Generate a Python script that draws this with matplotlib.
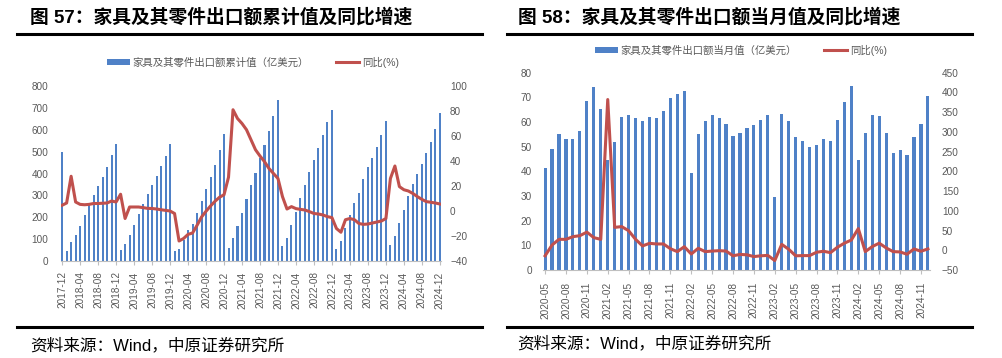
import matplotlib
matplotlib.use("Agg")
import matplotlib.pyplot as plt
from matplotlib.lines import Line2D
from matplotlib.patches import Patch
import numpy as np

plt.rcParams['font.family'] = ['Liberation Sans', 'Noto Sans CJK SC', 'DejaVu Sans']

# ---------------- data: left chart (cumulative) ----------------
months_left = [f"{y}-{m:02d}" for y in range(2017, 2025) for m in range(1, 13)]
months_left = months_left[months_left.index("2017-12"):months_left.index("2024-12") + 1]

cum_value = [497,
             48, 85, 117, 160, 210, 258, 300, 343, 385, 432, 483, 535,
             52, 76, 120, 165, 213, 262, 305, 349, 389, 433, 480, 537,
             44, 53, 98, 140, 171, 221, 276, 331, 383, 439, 509, 582,
             61, 105, 160, 221, 282, 346, 404, 471, 530, 596, 664, 738,
             67, 107, 165, 224, 287, 349, 405, 462, 518, 575, 634, 692,
             56, 90, 151, 212, 267, 311, 375, 430, 470, 520, 575, 640,
             72, 114, 172, 233, 297, 350, 399, 445, 494, 544, 605, 678]

cum_yoy = [4.6,
           6.4, 27.8, 7.2, 5.3, 5.0, 5.3, 6.0, 6.0, 6.2, 6.4, 8.0, 7.2,
           13.4, -6.0, 3.2, 3.2, 3.2, 2.7, 2.1, 2.0, 1.6, 1.0, 0.5, 0.0,
           -2.0, -24.0, -22.0, -18.7, -17.6, -11.5, -4.8, -0.2, 4.0, 7.8, 11.0, 13.0,
           27.0, 81.0, 74.0, 70.0, 65.0, 57.0, 49.0, 44.0, 39.5, 34.0, 30.0, 26.0,
           11.5, 1.6, 3.5, 1.9, 1.3, 0.8, -0.5, -2.0, -2.4, -3.2, -4.5, -5.3,
           -14.0, -17.0, -7.0, -6.0, -7.0, -10.0, -10.7, -10.4, -9.6, -8.8, -8.0, -6.0,
           26.0, 36.0, 19.5, 17.0, 16.0, 14.0, 11.5, 9.3, 7.5, 7.0, 6.4, 5.6]

# ---------------- data: right chart (monthly) ----------------
months_right = [f"{y}-{m:02d}" for y in range(2020, 2025) for m in range(1, 13)]
months_right = months_right[months_right.index("2020-05"):months_right.index("2024-12") + 1]

month_value = [41.5, 49, 55, 53.3, 53, 56.5, 68.5, 74.2,
               65.3, 44.5, 51.8, 62.2, 62.7, 61.7, 60.3, 62.2, 61.5, 64.5, 69.8, 71.4,
               72.4, 39.5, 55.3, 60.4, 63, 61.5, 59, 54.3, 55.6, 57.6, 58.7, 60.8,
               62.7, 29.6, 63.4, 60.5, 53.8, 52.3, 50, 50.6, 53.1, 52.3, 61, 68.3,
               74.6, 44.6, 55.7, 62.7, 62.4, 55.4, 47.5, 48.5, 46.6, 53.8, 59.2, 70.6]

month_yoy = [-14, 13.3, 27.7, 27.7, 34.5, 37, 46, 32,
             27.7, 382, 58, 60, 49.6, 27.7, 11, 17.6, 16, 16, 4, -3.5,
             9, -9.5, 5, -3.5, -2, -1, -2, -14, -10.5, -11.5, -16, -14,
             -13, -26, 15, 2.5, -14, -13.5, -13.5, -5, -2.5, -6, 7.6, 18,
             26, 55, -3.4, 9.3, 18, 6, -3.4, -4.2, -10, 3.4, -2.5, 3.4]

title_left = "图 57：家具及其零件出口额累计值及同比增速"
title_right = "图 58：家具及其零件出口额当月值及同比增速"
legend_bar_left = "家具及其零件出口额累计值（亿美元）"
legend_bar_right = "家具及其零件出口额当月值（亿美元）"
legend_line = "同比(%)"
source = "资料来源：Wind，中原证券研究所"

BLUE = "#4F81C7"
RED = "#C0504D"
GRAY = "#595959"
AXGRAY = "#BFBFBF"

W, H = 1002, 358
fig = plt.figure(figsize=(W / 100, H / 100), dpi=100)


def fx(px):
    return px / W


def fy(py):
    return 1 - py / H


def style(ax, axr, ylpad, yrpad, xpad, fs):
    for a in (ax, axr):
        for s in ('top', 'left', 'right', 'bottom'):
            a.spines[s].set_visible(False)
    ax.spines['bottom'].set_visible(True)
    ax.spines['bottom'].set_color(AXGRAY)
    ax.spines['bottom'].set_linewidth(0.8)
    ax.tick_params(axis='y', length=0, pad=ylpad, labelsize=fs, labelcolor=GRAY)
    axr.tick_params(axis='y', length=0, pad=yrpad, labelsize=fs, labelcolor=GRAY)
    ax.tick_params(axis='x', length=3, color=AXGRAY, pad=xpad, labelsize=fs,
                   labelcolor=GRAY, labelrotation=90)


# ---------------- left chart ----------------
ax1 = fig.add_axes([fx(61), fy(261), fx(441) - fx(61), fy(86) - fy(261)])
xl = np.arange(len(months_left))
ax1.bar(xl, cum_value, width=0.45, color=BLUE, zorder=2)
ax1.set_ylim(0, 800)
ax1.set_yticks(range(0, 801, 100))
ax1.set_xlim(-0.25, len(months_left) - 0.75)
ax1.set_xticks(xl[::4])
ax1.set_xticklabels(months_left[::4])
ax1r = ax1.twinx()
ax1r.plot(xl, cum_yoy, color=RED, lw=2.2, zorder=3)
ax1r.set_ylim(-40, 100)
ax1r.set_yticks(range(-40, 101, 20))
style(ax1, ax1r, 9, 6.5, 4.5, 7.2)

# ---------------- right chart ----------------
ax2 = fig.add_axes([fx(543), fy(270), fx(930) - fx(543), fy(72.7) - fy(270)])
xr = np.arange(len(months_right))
ax2.bar(xr, month_value, width=0.45, color=BLUE, zorder=2)
ax2.set_ylim(0, 80)
ax2.set_yticks(range(0, 81, 10))
ax2.set_xlim(-0.3, len(months_right) - 0.7)
ax2.set_xticks(xr[::3])
ax2.set_xticklabels(months_right[::3])
ax2r = ax2.twinx()
ax2r.plot(xr, month_yoy, color=RED, lw=2.2, zorder=3)
ax2r.set_ylim(-50, 450)
ax2r.set_yticks(range(-50, 451, 50))
style(ax2, ax2r, 8, 8.5, 5.5, 7.2)

# ---------------- legends ----------------
def add_legend(label_bar, cx, cy):
    h = [Patch(facecolor=BLUE, edgecolor='none'), Line2D([0], [0], color=RED, lw=2.2)]
    fig.legend(h, [label_bar, legend_line], loc='center', bbox_to_anchor=(fx(cx), fy(cy)),
               ncol=2, frameon=False, fontsize=7.5, handlelength=2.2, handleheight=0.55,
               handletextpad=0.3, columnspacing=2.6, labelcolor=GRAY, borderpad=0)


add_legend(legend_bar_left, 253, 62)
add_legend(legend_bar_right, 741, 50)

# ---------------- titles, rules, sources ----------------
tfont = ['Liberation Sans', 'Noto Sans CJK SC', 'DejaVu Sans']
fig.text(fx(30), fy(17), title_left, fontsize=13.5, fontweight='bold', family=tfont,
         va='center', ha='left', color='black')
fig.text(fx(518), fy(17), title_right, fontsize=13.5, fontweight='bold', family=tfont,
         va='center', ha='left', color='black')

for x0, x1 in ((17, 482), (507, 972)):
    for yy in (33.5, 327):
        fig.add_artist(Line2D([fx(x0), fx(x1)], [fy(yy), fy(yy)], color='black', lw=2.2,
                              transform=fig.transFigure))

fig.text(fx(30), fy(345), source, fontsize=12, family=tfont, va='center', ha='left', color='black')
fig.text(fx(517), fy(343), source, fontsize=12, family=tfont, va='center', ha='left', color='black')

fig.savefig("out.png", dpi=100)
